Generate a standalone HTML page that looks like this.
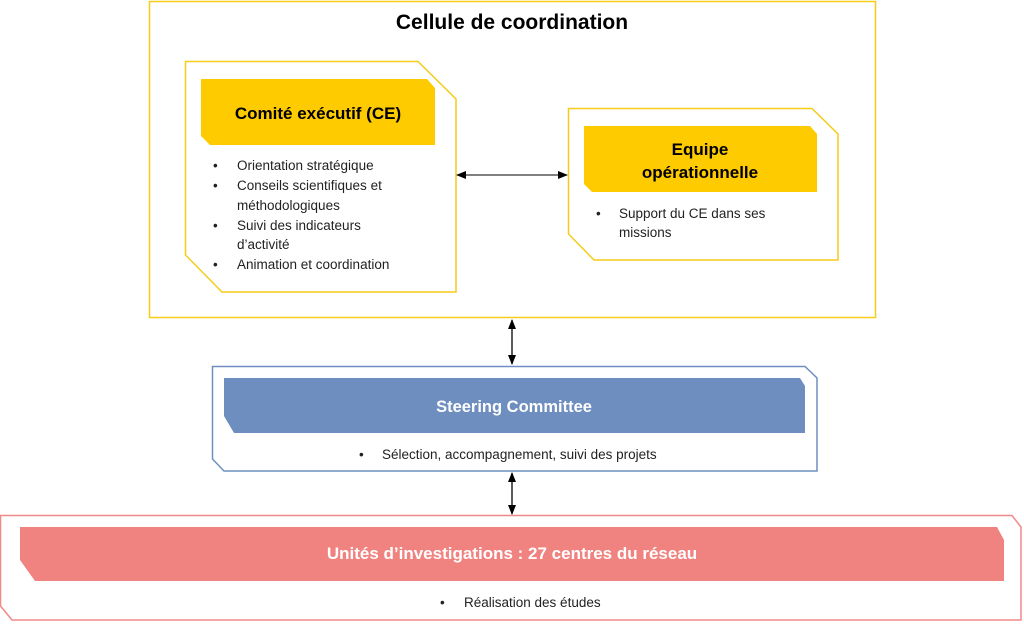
<!DOCTYPE html>
<html><head><meta charset="utf-8"><style>
html,body{margin:0;padding:0;background:#fff;}
svg text{font-family:"Liberation Sans",sans-serif;}
</style></head><body>
<svg width="1024" height="622" viewBox="0 0 1024 622" xmlns="http://www.w3.org/2000/svg">
<defs>
<marker id="a" markerWidth="10" markerHeight="8" refX="9" refY="4" orient="auto-start-reverse" markerUnits="userSpaceOnUse">
<path d="M0,0 L10,4 L0,8 z" fill="#000"/></marker>
</defs>
<rect x="149.5" y="1.5" width="726" height="316" fill="#fff" stroke="#f5cc1a" stroke-width="1.5"/>
<text x="512" y="29" text-anchor="middle" font-size="21" font-weight="bold" fill="#000">Cellule de coordination</text>

<!-- Comite -->
<polygon points="185.5,61.5 418,61.5 456,99 456,292 222,292 185.5,255" fill="#fff" stroke="#f5cc1a" stroke-width="1.5"/>
<polygon points="201,79 427,79 435,88 435,145 210,145 201,136" fill="#fecb00"/>
<text x="318" y="119" text-anchor="middle" font-size="17" font-weight="bold">Comité exécutif (CE)</text>
<g font-size="13.5" fill="#222">
<text x="213" y="170">•</text><text x="237" y="170">Orientation stratégique</text>
<text x="213" y="190">•</text><text x="237" y="190">Conseils scientifiques et</text>
<text x="237" y="210">méthodologiques</text>
<text x="213" y="230">•</text><text x="237" y="230">Suivi des indicateurs</text>
<text x="237" y="249">d’activité</text>
<text x="213" y="269">•</text><text x="237" y="269">Animation et coordination</text>
</g>

<!-- Equipe -->
<polygon points="568.5,108.5 812,108.5 838,134 838,260 594,260 568.5,234" fill="#fff" stroke="#f5cc1a" stroke-width="1.5"/>
<polygon points="584,126 810,126 817,134 817,192 592,192 584,184" fill="#fecb00"/>
<text x="700" y="155" text-anchor="middle" font-size="17" font-weight="bold">Equipe</text>
<text x="700" y="178" text-anchor="middle" font-size="17" font-weight="bold">opérationnelle</text>
<g font-size="13.5" fill="#222">
<text x="596" y="218">•</text><text x="619" y="218">Support du CE dans ses</text>
<text x="619" y="237">missions</text>
</g>

<line x1="457" y1="175" x2="567" y2="175" stroke="#000" stroke-width="1" marker-start="url(#a)" marker-end="url(#a)"/>
<line x1="512" y1="320" x2="512" y2="364" stroke="#000" stroke-width="1.3" marker-start="url(#a)" marker-end="url(#a)"/>
<line x1="512" y1="473" x2="512" y2="514" stroke="#000" stroke-width="1.3" marker-start="url(#a)" marker-end="url(#a)"/>

<!-- Steering -->
<polygon points="212.5,366.5 805,366.5 817,378 817,471 224,471 212.5,459" fill="#fff" stroke="#6f8fc0" stroke-width="1.5"/>
<polygon points="224,378 800,378 805,386 805,433 234,433 224,416" fill="#6e8ebf"/>
<text x="514" y="412" text-anchor="middle" font-size="16.5" font-weight="bold" fill="#fff">Steering Committee</text>
<g font-size="13.5" fill="#222">
<text x="359" y="459">•</text><text x="382" y="459">Sélection, accompagnement, suivi des projets</text>
</g>

<!-- Unites -->
<polygon points="0.5,515.5 1012,515.5 1021,527 1021,620 12,620 0.5,606" fill="#fff" stroke="#f08a88" stroke-width="1.5"/>
<polygon points="20,527 997,527 1004,540 1004,581 35,581 20,560" fill="#f08380"/>
<text x="512" y="559" text-anchor="middle" font-size="17" font-weight="bold" fill="#fff">Unités d’investigations : 27 centres du réseau</text>
<g font-size="13.5" fill="#222">
<text x="440" y="607">•</text><text x="464" y="607">Réalisation des études</text>
</g>
</svg>
</body></html>
